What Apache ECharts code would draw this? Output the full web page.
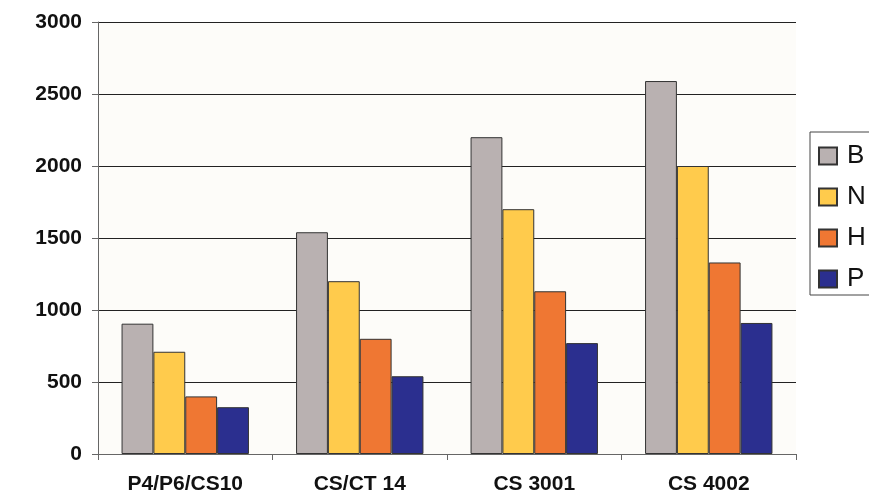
<!DOCTYPE html>
<html><head><meta charset="utf-8">
<script src="https://cdn.jsdelivr.net/npm/echarts@6/dist/echarts.min.js"></script>
<style>html,body{margin:0;padding:0;background:#fff;}#c{width:869px;height:495px;}</style>
</head><body><div id="c"></div>
<script>
const categories = ['P4/P6/CS10', 'CS/CT 14', 'CS 3001', 'CS 4002'];
const seriesNames = ['B', 'N', 'H', 'P'];
const B = [905, 1540, 2200, 2590];
const N = [710, 1200, 1700, 2000];
const H = [400, 800, 1130, 1330];
const P = [325, 540, 770, 910];
const yTicks = [0, 500, 1000, 1500, 2000, 2500, 3000];
const colors = ['#b9b1b1', '#ffcb4c', '#ef7733', '#2b2f8f'];
const values = [B, N, H, P];

const chart = echarts.init(document.getElementById('c'));
chart.setOption({
  backgroundColor: '#ffffff',
  animation: false,
  grid: { left: 98, right: 73, top: 22, bottom: 40, show: true, backgroundColor: '#fdfcf9', borderWidth: 0 },
  legend: {
    orient: 'vertical', left: 810, top: 132,
    data: seriesNames,
    itemWidth: 18, itemHeight: 17, itemGap: 15,
    padding: [11, 30, 3, 8],
    borderColor: '#444', borderWidth: 1,
    textStyle: { fontFamily: 'Liberation Sans', fontSize: 26, color: '#111', padding: [0, 0, 0, 5] },
    icon: 'rect'
  },
  xAxis: {
    type: 'category', data: categories,
    axisLine: { lineStyle: { color: '#666', width: 1 } },
    axisTick: { show: true, length: 6, lineStyle: { color: '#666' } },
    axisLabel: { fontFamily: 'Liberation Sans', fontWeight: 'bold', fontSize: 21, color: '#111', margin: 20 }
  },
  yAxis: {
    type: 'value', min: yTicks[0], max: yTicks[yTicks.length - 1], interval: 500,
    axisLine: { show: true, lineStyle: { color: '#666' } },
    axisTick: { show: true, length: 6, lineStyle: { color: '#666' } },
    splitLine: { lineStyle: { color: '#222', width: 1 } },
    axisLabel: { fontFamily: 'Liberation Sans', fontWeight: 'bold', fontSize: 21, color: '#111', margin: 16, formatter: v => String(v) }
  },
  series: seriesNames.map((n, i) => ({
    name: n, type: 'bar', data: values[i],
    barGap: '0%', barCategoryGap: '27%',
    itemStyle: { color: colors[i], borderColor: '#333', borderWidth: 1 }
  }))
});
</script></body></html>
